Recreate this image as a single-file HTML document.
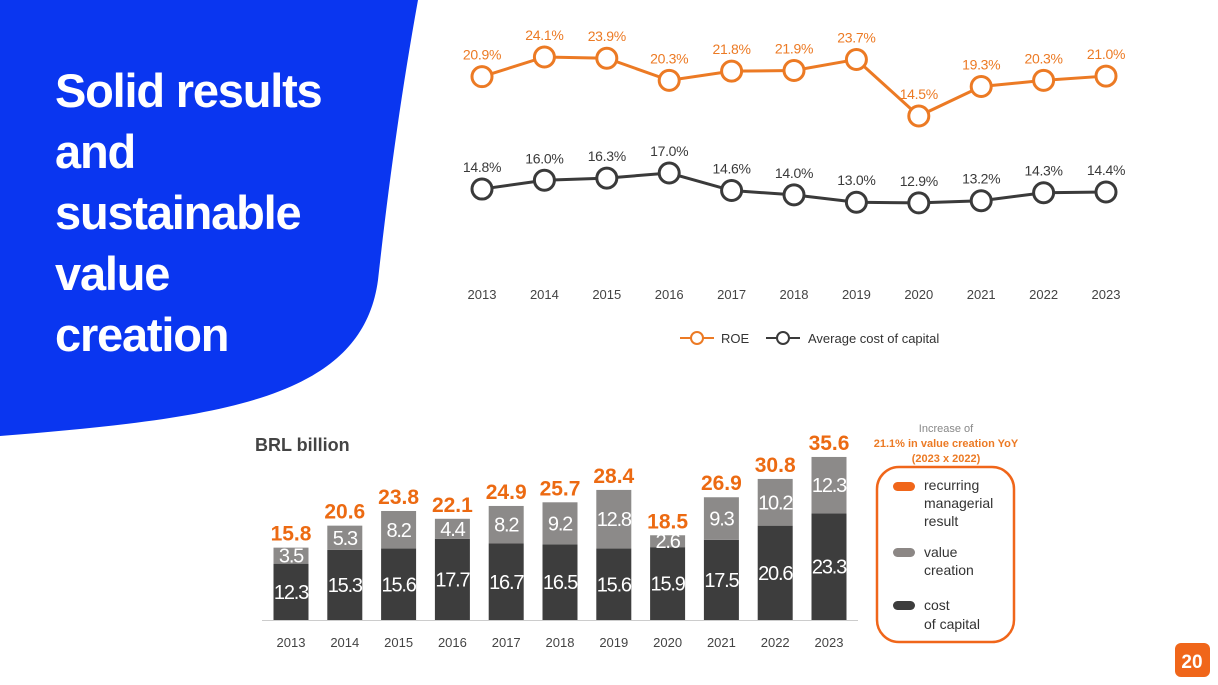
<!DOCTYPE html>
<html><head><meta charset="utf-8"><style>
html,body{margin:0;padding:0;background:#fff;}
body{width:1218px;height:685px;position:relative;overflow:hidden;font-family:"Liberation Sans",sans-serif;}
#title{position:absolute;left:55px;top:60px;color:#fff;font-weight:bold;font-size:47px;line-height:61px;letter-spacing:-1.2px;margin:0;}
svg{position:absolute;left:0;top:0;}
</style></head><body>
<svg width="1218" height="685">
<path d="M0,0 L418,0 C400,100 388,190 378,280 C362,400 220,418 0,436 Z" fill="#0a36f0"/>
<g id="line"></g>
<g id="bars"></g>
<g>
<text x="946" y="432" font-size="11" fill="#888" text-anchor="middle">Increase of</text>
<text x="946" y="447" font-size="11" fill="#ec7a24" font-weight="bold" text-anchor="middle">21.1% in value creation YoY</text>
<text x="946" y="462" font-size="11" fill="#ec7a24" font-weight="bold" text-anchor="middle">(2023 x 2022)</text>
<rect x="877" y="467" width="137" height="175" rx="22" fill="none" stroke="#f0661a" stroke-width="2.5"/>
<rect x="893" y="482" width="22" height="9" rx="4.5" fill="#f0661a"/>
<text font-size="14" fill="#333"><tspan x="924" y="490">recurring</tspan><tspan x="924" y="508">managerial</tspan><tspan x="924" y="526">result</tspan></text>
<rect x="893" y="548" width="22" height="9" rx="4.5" fill="#8c8785"/>
<text font-size="14" fill="#333"><tspan x="924" y="557">value</tspan><tspan x="924" y="575">creation</tspan></text>
<rect x="893" y="601" width="22" height="9" rx="4.5" fill="#3d3d3d"/>
<text font-size="14" fill="#333"><tspan x="924" y="610">cost</tspan><tspan x="924" y="629">of capital</tspan></text>
</g>
<rect x="1175" y="643" width="35" height="34" rx="6" fill="#f0661a"/>
<text x="1192" y="668" font-size="19" font-weight="bold" fill="#fff" text-anchor="middle">20</text>
<text x="255" y="451" font-size="18" font-weight="bold" fill="#444">BRL billion</text>
</svg>
<div id="title">Solid results<br>and<br>sustainable<br>value<br>creation</div>
<script>
const years=["2013","2014","2015","2016","2017","2018","2019","2020","2021","2022","2023"];
const roe=[20.9,24.1,23.9,20.3,21.8,21.9,23.7,14.5,19.3,20.3,21.0];
const costCap=[14.8,16.0,16.3,17.0,14.6,14.0,13.0,12.9,13.2,14.3,14.4];
const costBar=[12.3,15.3,15.6,17.7,16.7,16.5,15.6,15.9,17.5,20.6,23.3];
const valueBar=[3.5,5.3,8.2,4.4,8.2,9.2,12.8,2.6,9.3,10.2,12.3];
const totals=[15.8,20.6,23.8,22.1,24.9,25.7,28.4,18.5,26.9,30.8,35.6];
const NS="http://www.w3.org/2000/svg";
function mk(p,t,a,txt){const e=document.createElementNS(NS,t);for(const k in a)e.setAttribute(k,a[k]);if(txt!==undefined)e.textContent=txt;p.appendChild(e);return e;}
const L=document.getElementById('line');
const lx=i=>482+i*62.4;
const yR=v=>57+(24.1-v)*6.15;
const yC=v=>173+(17-v)*7.3;
function series(vals,yf,col,name){
  const pl=mk(L,'polyline',{points:vals.map((v,i)=>lx(i)+','+yf(v)).join(' '),fill:'none',stroke:col,'stroke-width':3});
  
  
  vals.forEach((v,i)=>{
    const c=mk(L,'circle',{cx:lx(i),cy:yf(v),r:10,fill:'#fff',stroke:col,'stroke-width':3});
    
    
    const t=mk(L,'text',{x:lx(i),y:yf(v)-17,'font-size':14,fill:col,'text-anchor':'middle','letter-spacing':'-0.3'},v.toFixed(1)+'%');
    
    
  });
}
series(roe,yR,'#ec7a24','roe');
series(costCap,yC,'#3a3a3a','cost-of-capital');
years.forEach((y,i)=>{const t=mk(L,'text',{x:lx(i),y:299,'font-size':13,fill:'#444','text-anchor':'middle'},y);

});
mk(L,'line',{x1:680,y1:338,x2:714,y2:338,stroke:'#ec7a24','stroke-width':2});
mk(L,'circle',{cx:697,cy:338,r:6,fill:'#fff',stroke:'#ec7a24','stroke-width':2});
const lg1=mk(L,'text',{x:721,y:343,'font-size':13,fill:'#333'},'ROE');


mk(L,'line',{x1:766,y1:338,x2:800,y2:338,stroke:'#3a3a3a','stroke-width':2});
mk(L,'circle',{cx:783,cy:338,r:6,fill:'#fff',stroke:'#3a3a3a','stroke-width':2});
const lg2=mk(L,'text',{x:808,y:343,'font-size':13,fill:'#333'},'Average cost of capital');


const B=document.getElementById('bars');
const bx=i=>291+i*53.8;
const base=620,k=4.58,bw=35;
years.forEach((y,i)=>{
  const hc=costBar[i]*k,hv=valueBar[i]*k;
  const r1=mk(B,'rect',{x:bx(i)-bw/2,y:base-hc,width:bw,height:hc,fill:'#3d3d3d'});
  
  
  const r2=mk(B,'rect',{x:bx(i)-bw/2,y:base-hc-hv,width:bw,height:hv,fill:'#8c8a89'});
  
  
  const t1=mk(B,'text',{x:bx(i),y:Math.max(base-hc/2+7,base-hc+22),'font-size':20,fill:'#fff','text-anchor':'middle','letter-spacing':'-1.2'},costBar[i].toFixed(1));
  
  
  const t2=mk(B,'text',{x:bx(i),y:base-hc-hv/2+7,'font-size':20,fill:'#fff','text-anchor':'middle','letter-spacing':'-1.2'},valueBar[i].toFixed(1));
  
  
  const t3=mk(B,'text',{x:bx(i),y:base-totals[i]*k-7,'font-size':21,'font-weight':'bold',fill:'#ec6a12','text-anchor':'middle'},totals[i].toFixed(1));
  
  
  const t4=mk(B,'text',{x:bx(i),y:647,'font-size':13,fill:'#444','text-anchor':'middle'},y);
  
  
});
const ax=mk(B,'line',{x1:262,y1:base+0.5,x2:858,y2:base+0.5,stroke:'#ccc','stroke-width':1});


</script>
</body></html>
